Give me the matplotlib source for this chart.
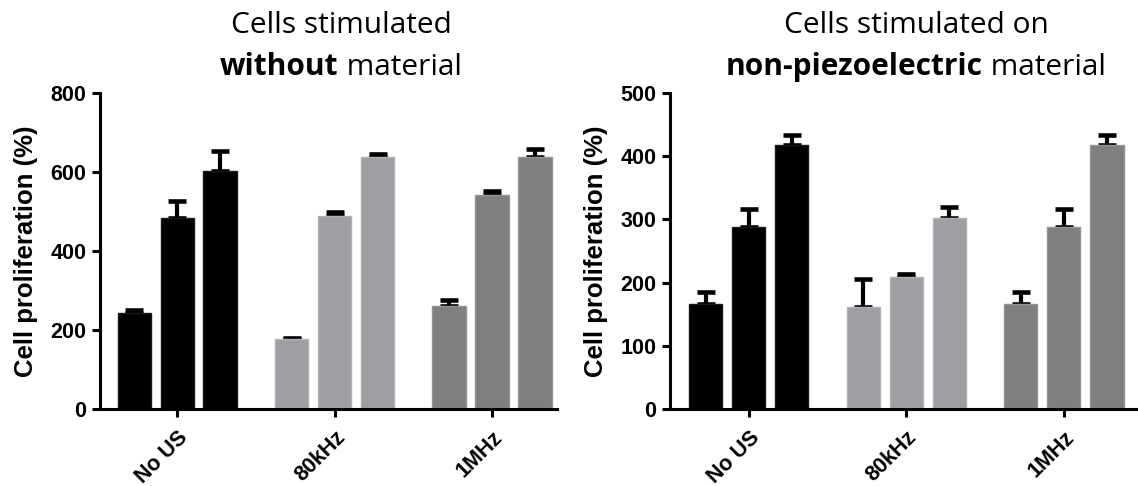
import matplotlib.pyplot as plt
import matplotlib.transforms as mtransforms

groups = ['No US', '80kHz', '1MHz']
colors = ['#000000', '#9f9fa3', '#7f7f7f']
edges = ['#1a1a1a', '#b2b2b6', '#959595']

# left panel: cells stimulated without material
left_vals = [[244, 485, 603], [178, 488, 638], [262, 542, 638]]
left_err = [[7, 42, 51], [3, 10, 9], [13, 11, 21]]

# right panel: cells on non-piezoelectric material
right_vals = [[166, 288, 418], [162, 209, 302], [166, 288, 418]]
right_err = [[19, 28, 15], [43, 5, 17], [19, 28, 15]]

plt.rcParams['font.family'] = 'Liberation Sans'

fig = plt.figure(figsize=(11.38, 4.86), dpi=100)
ax1 = fig.add_axes([0.0879, 0.1584, 0.4016, 0.650])
ax2 = fig.add_axes([0.5888, 0.1584, 0.4112, 0.650])

step = 0.273
width = 0.21


def draw(ax, vals, errs, ymax, xlim, yticks, labx):
    for g in range(len(groups)):
        for k in range(3):
            x = g + (k - 1) * step
            ax.bar(x, vals[g][k], width=width, color=colors[g],
                   edgecolor=edges[g], linewidth=1.0, zorder=2)
            ax.errorbar(x, vals[g][k], yerr=[[0], [errs[g][k]]], fmt='none',
                        ecolor='black', elinewidth=3, capsize=6.3, capthick=3.3,
                        zorder=1)
    ax.set_ylim(0, ymax)
    ax.set_xlim(*xlim)
    ax.set_yticks(yticks)
    ax.set_xticks(range(len(groups)))
    ax.set_xticklabels(groups, rotation=45, ha='right', rotation_mode='anchor',
                       fontsize=15.5, fontweight='bold')
    off = mtransforms.ScaledTranslation(3 / 100, 0, fig.dpi_scale_trans)
    for lab in ax.get_xticklabels():
        lab.set_transform(lab.get_transform() + off)
    ax.spines['top'].set_visible(False)
    ax.spines['right'].set_visible(False)
    for s in ['left', 'bottom']:
        ax.spines[s].set_linewidth(2.2)
    ax.tick_params(axis='both', width=2.2, length=6, labelsize=15.5)
    ax.tick_params(axis='y', pad=4)
    ax.tick_params(axis='x', pad=7)
    for lab in ax.get_yticklabels():
        lab.set_fontweight('bold')
    ax.set_ylabel('Cell proliferation (%)', fontsize=18.5, fontweight='bold')
    ax.yaxis.set_label_coords(labx, 0.5)


draw(ax1, left_vals, left_err, 800, (-0.489, 2.413), [0, 200, 400, 600, 800],
     -0.136)
draw(ax2, right_vals, right_err, 500, (-0.50, 2.47),
     [0, 100, 200, 300, 400, 500], -0.132)


def title(cx, line1, bold, rest):
    W, H = fig.get_size_inches() * fig.dpi
    fig.text(cx / W, 1 - 33 / H, line1, ha='center', va='baseline',
             fontsize=21.5, family='Open Sans')
    r = fig.canvas.get_renderer()
    tb = fig.text(0, 1 - 75 / H, bold, ha='left', va='baseline', fontsize=21.5,
                  family='Open Sans', fontweight='bold')
    tn = fig.text(0, 1 - 75 / H, ' ' + rest, ha='left', va='baseline',
                  fontsize=21.5, family='Open Sans')
    wb = tb.get_window_extent(r).width
    wn = tn.get_window_extent(r).width
    x0 = cx - (wb + wn) / 2
    tb.set_x(x0 / W)
    tn.set_x((x0 + wb) / W)


title(341, 'Cells stimulated', 'without', 'material')
title(916, 'Cells stimulated on', 'non-piezoelectric', 'material')

fig.savefig('out.png', dpi=100)
